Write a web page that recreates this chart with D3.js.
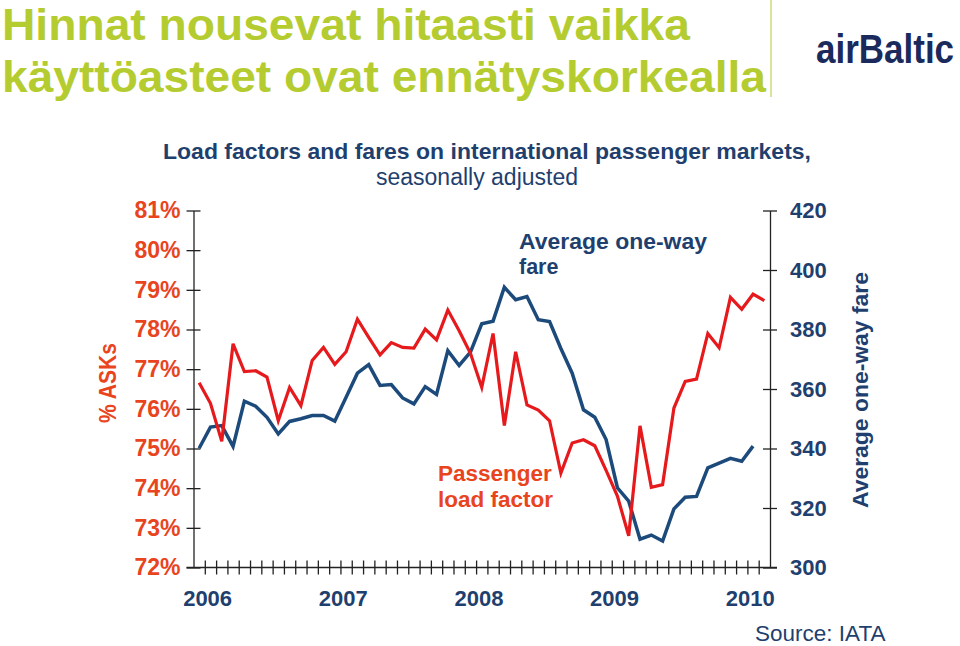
<!DOCTYPE html>
<html>
<head>
<meta charset="utf-8">
<script src="https://cdn.jsdelivr.net/npm/d3@7"></script>
<style>
  html, body { margin: 0; padding: 0; background: #fff; }
  svg { display: block; font-family: "Liberation Sans", Arial, sans-serif; }
</style>
</head>
<body>
<svg id="chart" width="960" height="646"></svg>
<script>
// ---------- DATA ----------
const months = [];
for (let y = 2006; y <= 2010; y++) {
  for (let m = 1; m <= 12; m++) {
    if (y === 2010 && m > 3) break;
    months.push(y + "-" + String(m).padStart(2, "0"));
  }
}
const yearLabels = ["2006", "2007", "2008", "2009", "2010"];

// Passenger load factor, % of ASKs (left axis)
const loadFactor = [
  76.66, 76.14, 75.18, 77.64, 76.94, 76.96, 76.80, 75.70, 76.54, 76.08,
  77.22, 77.55, 77.12, 77.44, 78.26, 77.80, 77.36, 77.67, 77.55, 77.53,
  78.01, 77.74, 78.49, 77.97, 77.40, 76.54, 77.90, 75.58, 77.44, 76.10,
  75.97, 75.70, 74.38, 75.14, 75.22, 75.07, 74.45, 73.80, 72.80, 75.57,
  74.02, 74.09, 76.02, 76.69, 76.75, 77.90, 77.54, 78.81, 78.51, 78.89,
  78.73
];

// Average one-way fare (right axis)
const fare = [
  340.1, 347.2, 347.7, 340.7, 355.9, 354.2, 350.5, 344.9, 349.1, 350.0,
  351.1, 351.1, 349.2, 357.2, 365.3, 368.2, 361.2, 361.5, 357.0, 355.0,
  360.8, 358.2, 372.9, 367.9, 372.4, 381.9, 382.8, 394.2, 390.0, 391.1,
  383.3, 382.7, 373.6, 365.3, 353.0, 350.5, 343.0, 326.8, 322.3, 309.5,
  310.9, 308.9, 319.7, 323.6, 323.9, 333.5, 335.1, 336.7, 335.7, 340.8
];

const leftTicks = [72, 73, 74, 75, 76, 77, 78, 79, 80, 81];
const rightTicks = [300, 320, 340, 360, 380, 400, 420];

// ---------- STYLE ----------
const C = {
  title: "#b5cc30",
  navy: "#1f3f6e",
  orange: "#e8441e",
  red: "#e6191c",
  blue: "#1c4a7b",
  axis: "#222",
  logo: "#1a2a5c",
  divider: "#d8e49c"
};

const svg = d3.select("#chart");

// ---------- HEADER ----------
svg.append("text").attr("x", 2).attr("y", 40)
  .attr("font-size", 45).attr("font-weight", "bold").attr("fill", C.title)
  .attr("textLength", 688).attr("lengthAdjust", "spacingAndGlyphs")
  .text("Hinnat nousevat hitaasti vaikka");
svg.append("text").attr("x", 2).attr("y", 92)
  .attr("font-size", 45).attr("font-weight", "bold").attr("fill", C.title)
  .attr("textLength", 764).attr("lengthAdjust", "spacingAndGlyphs")
  .text("käyttöasteet ovat ennätyskorkealla");
svg.append("line").attr("x1", 771).attr("x2", 771).attr("y1", 0).attr("y2", 97)
  .attr("stroke", C.divider).attr("stroke-width", 2);
svg.append("text").attr("transform", "translate(816,63) scale(1,1.16)")
  .attr("font-size", 35).attr("font-weight", "bold").attr("fill", C.logo)
  .text("airBaltic");

// Chart title
svg.append("text").attr("x", 487).attr("y", 159).attr("text-anchor", "middle")
  .attr("font-size", 22).attr("font-weight", "bold").attr("fill", C.navy)
  .attr("textLength", 648).attr("lengthAdjust", "spacingAndGlyphs")
  .text("Load factors and fares on international passenger markets,");
svg.append("text").attr("x", 477).attr("y", 185).attr("text-anchor", "middle")
  .attr("font-size", 23).attr("fill", C.navy)
  .text("seasonally adjusted");

// ---------- SCALES ----------
const x0 = 193.5, x1 = 770;
const yTop = 210.5, yBot = 567.5;
const xIdx = d3.scaleLinear().domain([0, months.length]).range([x0, x1]);
const yL = d3.scaleLinear().domain([72, 81]).range([yBot, yTop]);
const yR = d3.scaleLinear().domain([300, 420]).range([yBot, yTop]);

// ---------- AXES ----------
const gL = svg.append("g").attr("transform", `translate(${x0},0)`)
  .call(d3.axisLeft(yL).tickValues(leftTicks).tickFormat(d => d + "%").tickSize(7).tickPadding(6).tickSizeOuter(0));
gL.select(".domain").attr("stroke", C.axis).attr("stroke-width", 1.3);
gL.selectAll(".tick line").attr("x1", 7).attr("stroke", C.axis).attr("stroke-width", 1.3);
gL.selectAll(".tick text").attr("font-size", 23).attr("font-weight", "bold")
  .attr("fill", C.orange).attr("font-family", "Liberation Sans, Arial, sans-serif");

const gR = svg.append("g").attr("transform", `translate(${x1},0)`)
  .call(d3.axisRight(yR).tickValues(rightTicks).tickSize(7).tickPadding(13).tickSizeOuter(0));
gR.select(".domain").attr("stroke", C.axis).attr("stroke-width", 1.3);
gR.selectAll(".tick line").attr("x1", -7).attr("stroke", C.axis).attr("stroke-width", 1.3);
gR.selectAll(".tick text").attr("font-size", 22).attr("font-weight", "bold")
  .attr("fill", C.navy).attr("font-family", "Liberation Sans, Arial, sans-serif");

const gB = svg.append("g").attr("transform", `translate(0,${yBot})`)
  .call(d3.axisBottom(xIdx).tickValues(d3.range(1, months.length)).tickFormat("").tickSize(7).tickSizeOuter(0));
gB.select(".domain").remove();
gB.append("line").attr("x1", x0 - 7).attr("x2", x1 + 7).attr("y1", 0).attr("y2", 0)
  .attr("stroke", C.axis).attr("stroke-width", 1.3);
gB.selectAll(".tick line").attr("y1", -7).attr("stroke", C.axis).attr("stroke-width", 1.3);

// Year labels
svg.append("g").selectAll("text").data(yearLabels).join("text")
  .attr("x", d => xIdx(months.indexOf(d + "-01") + 1.25))
  .attr("y", 606).attr("text-anchor", "middle")
  .attr("font-size", 22).attr("font-weight", "bold").attr("fill", C.navy)
  .text(d => d);

// Axis titles
svg.append("text").attr("transform", "translate(116,383) rotate(-90)")
  .attr("text-anchor", "middle").attr("font-size", 24).attr("font-weight", "bold")
  .attr("fill", C.orange).attr("textLength", 80).attr("lengthAdjust", "spacingAndGlyphs")
  .text("% ASKs");
svg.append("text").attr("transform", "translate(868,390) rotate(-90)")
  .attr("text-anchor", "middle").attr("font-size", 22.5).attr("font-weight", "bold")
  .attr("fill", C.navy).attr("textLength", 236).attr("lengthAdjust", "spacingAndGlyphs")
  .text("Average one-way fare");

// ---------- LINES ----------
const lineL = d3.line().x((d, i) => xIdx(i + 0.5)).y(d => yL(d));
const lineR = d3.line().x((d, i) => xIdx(i + 0.5)).y(d => yR(d));

svg.append("path").datum(fare).attr("d", lineR)
  .attr("fill", "none").attr("stroke", C.blue).attr("stroke-width", 3.5)
  .attr("stroke-linejoin", "miter");
svg.append("path").datum(loadFactor).attr("d", lineL)
  .attr("fill", "none").attr("stroke", C.red).attr("stroke-width", 3.2)
  .attr("stroke-linejoin", "miter");

// ---------- ANNOTATIONS ----------
svg.append("text").attr("x", 519).attr("y", 249)
  .attr("font-size", 21.5).attr("font-weight", "bold").attr("fill", C.navy)
  .attr("textLength", 188).attr("lengthAdjust", "spacingAndGlyphs")
  .text("Average one-way");
svg.append("text").attr("x", 519).attr("y", 273.5)
  .attr("font-size", 21.5).attr("font-weight", "bold").attr("fill", C.navy)
  .text("fare");

svg.append("text").attr("x", 438).attr("y", 481)
  .attr("font-size", 22.5).attr("font-weight", "bold").attr("fill", C.orange)
  .text("Passenger");
svg.append("text").attr("x", 438).attr("y", 507)
  .attr("font-size", 22.5).attr("font-weight", "bold").attr("fill", C.orange)
  .text("load factor");

// Source
svg.append("text").attr("x", 755).attr("y", 641)
  .attr("font-size", 22.5).attr("fill", C.navy)
  .text("Source: IATA");
</script>
</body>
</html>
